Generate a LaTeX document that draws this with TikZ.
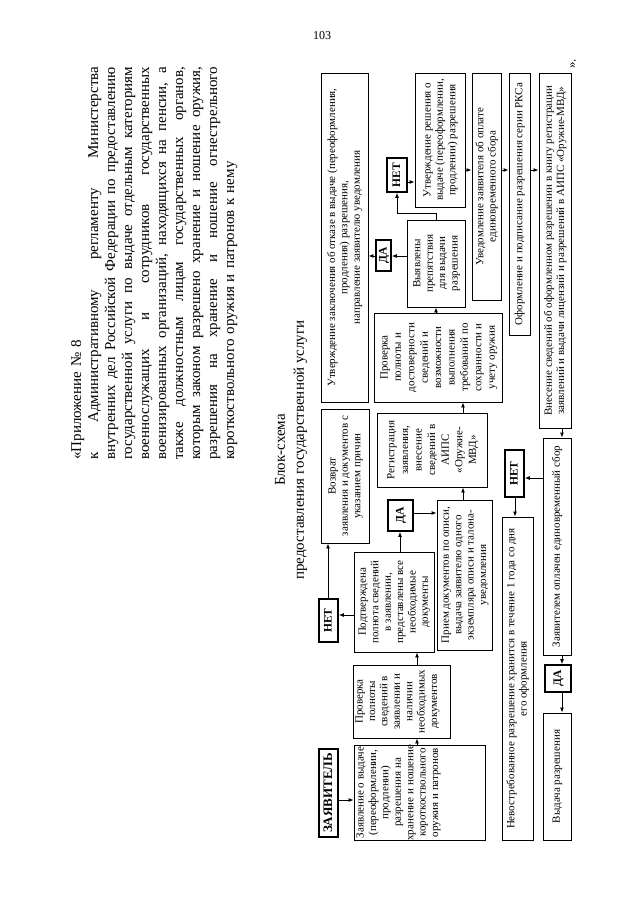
\documentclass[tikz,border=0pt]{standalone}
\usepackage{fontspec}
\setmainfont{Liberation Serif}
\usetikzlibrary{arrows.meta}
\hyphenpenalty=10000
\exhyphenpenalty=10000
\tikzset{
 box/.style={draw, line width=0.9pt, inner sep=0pt, rotate=90, font=\fontsize{11}{12.4}\selectfont},
 bbox/.style={line width=1.7pt, font=\bfseries\fontsize{11.5}{13}\selectfont},
 arr/.style={line width=0.9pt, -{Latex[length=5pt,width=4pt]}},
}
% #1 style, #2 name, #3 x1, #4 x2, #5 y1, #6 y2 (page px, y down), #7 t/c, #8 text
\newcommand\mkbx[8]{%
 \pgfmathsetmacro\bW{#6-#5}%
 \pgfmathsetmacro\bH{#4-#3}%
 \pgfmathsetmacro\bX{(#3+#4)/2}%
 \pgfmathsetmacro\bY{-(#5+#6)/2}%
 \node[box,#1] (#2) at (\bX pt,\bY pt) {\parbox[c][\bH pt][#7]{\bW pt}{\vspace*{1pt}\makebox[\bW pt][c]{\begin{tabular}{@{}c@{}}#8\end{tabular}}}};%
}
\newcommand\jline[1]{\leavevmode\hbox to 393pt{\spaceskip=0.3em plus 1fil\relax #1}}
\newcommand\conR[3]{\draw[arr] (#1.south |- 0,-#3pt) -- (#2.north |- 0,-#3pt);}
\newcommand\conL[3]{\draw[arr] (#1.north |- 0,-#3pt) -- (#2.south |- 0,-#3pt);}
\newcommand\conU[3]{\draw[arr] (#1.east -| #3pt,0) -- (#2.west -| #3pt,0);}
\newcommand\conD[3]{\draw[arr] (#1.west -| #3pt,0) -- (#2.east -| #3pt,0);}
\begin{document}
\begin{tikzpicture}
\useasboundingbox (0,0) rectangle (640pt,-905pt);
\fill[white] (0,0) rectangle (640pt,-905pt);

\node[font=\fontsize{12}{14}\selectfont] (pnum) at (322pt,-36pt) {103};

\node[rotate=90, anchor=north west, inner sep=0pt, text width=393pt, align=left,
      font=\fontsize{15}{17}\selectfont] (hdr) at (71pt,-460pt) {%
«Приложение № 8\\
\jline{к Административному регламенту Министерства}\\
\jline{внутренних дел Российской Федерации по предоставлению}\\
\jline{государственной услуги по выдаче отдельным категориям}\\
\jline{военнослужащих и сотрудников государственных}\\
\jline{военизированных организаций, находящихся на пенсии, а}\\
\jline{также должностным лицам государственных органов,}\\
\jline{которым законом разрешено хранение и ношение оружия,}\\
\jline{разрешения на хранение и ношение огнестрельного}\\
короткоствольного оружия и патронов к нему};

\node[rotate=90, align=center, font=\fontsize{15}{19}\selectfont] (title) at (291pt,-450pt)
  {Блок-схема\\предоставления государственной услуги};

\node[rotate=90, inner sep=0pt, font=\fontsize{13}{15}\selectfont] (close) at (573pt,-64pt) {».};

% boxes
\mkbx{bbox, font=\bfseries\fontsize{13}{15}\selectfont}{zayav}{319}{338}{749}{837}{c}{ЗАЯВИТЕЛЬ}
\mkbx{}{zayavl}{354}{485}{745}{840}{t}{Заявление о выдаче\\(переоформлении,\\продлении)\\разрешения на\\хранение и ношение\\короткоствольного\\оружия и патронов}
\mkbx{}{prov1}{353}{450}{665}{738}{t}{Проверка\\полноты\\сведений в\\заявлении и\\наличии\\необходимых\\документов}
\mkbx{}{podtv}{354}{434}{552}{652}{c}{Подтверждена\\полнота сведений\\в заявлении,\\представлены все\\необходимые\\документы}
\mkbx{bbox}{net1}{319}{338}{599}{642}{c}{НЕТ}
\mkbx{}{vozvrat}{321}{369}{409}{543}{c}{Возврат\\заявления и документов с\\указанием причин}
\mkbx{bbox}{da1}{388}{413}{500}{531}{c}{ДА}
\mkbx{}{priem}{437}{492}{500}{650}{c}{Прием документов по описи,\\выдача заявителю одного\\экземпляра описи и талона-\\уведомления}
\mkbx{font=\fontsize{11}{13.6}\selectfont}{reg}{377}{487}{413}{487}{c}{Регистрация\\заявления,\\внесение\\сведений в\\АИПС\\«Оружие-\\МВД»}
\mkbx{font=\fontsize{11}{13.4}\selectfont}{prov2}{374}{502}{313}{402}{c}{Проверка\\полноты и\\достоверности\\сведений и\\возможности\\выполнения\\требований по\\сохранности и\\учету оружия}
\mkbx{}{big}{321}{368}{73}{402}{c}{Утверждение заключения об отказе в выдаче (переоформления,\\продления) разрешения,\\направление заявителю уведомления}
\mkbx{bbox}{da2}{376}{391}{240}{271}{c}{ДА}
\mkbx{}{vyyav}{407}{465}{220}{307}{c}{Выявлены\\препятствия\\для выдачи\\разрешения}
\mkbx{bbox}{net2}{387}{407}{158}{192}{c}{НЕТ}
\mkbx{}{utv}{415}{465}{73}{207}{c}{Утверждение решения о\\выдаче (переоформлении,\\продлении) разрешения}
\mkbx{}{uved}{472}{501}{73}{300}{c}{Уведомление заявителя об оплате\\единовременного сбора}
\mkbx{}{oform}{509}{530}{73}{335}{c}{Оформление и подписание разрешения серии РКСа}
\mkbx{}{vnes}{539}{571}{73}{428}{c}{Внесение сведений об оформленном разрешении в книгу регистрации\\заявлений и выдачи лицензий и разрешений в АИПС «Оружие-МВД»}
\mkbx{}{oplach}{543}{571}{438}{655}{c}{Заявителем оплачен единовременный сбор}
\mkbx{bbox}{net3}{505}{524}{450}{497}{c}{НЕТ}
\mkbx{}{nevostr}{502}{533}{517}{840}{c}{Невостребованное разрешение хранится в течение 1 года со дня\\его оформления}
\mkbx{bbox}{da3}{545}{571}{665}{692}{c}{ДА}
\mkbx{}{vydacha}{543}{571}{713}{840}{c}{Выдача разрешения}

% connectors
\conR{zayav}{zayavl}{800}
\conU{zayavl}{prov1}{417}
\conU{prov1}{podtv}{417}
\conL{podtv}{net1}{615}
\conU{net1}{vozvrat}{328}
\conU{podtv}{da1}{400}
\conR{da1}{priem}{513}
\conU{priem}{reg}{463}
\conU{reg}{prov2}{463}
\conU{prov2}{vyyav}{436}
\conL{vyyav}{da2}{256}
\conL{da2}{big}{256}
\draw[arr] (vyyav.east) -- ++(0,6pt) -| (net2.west);
\conR{net2}{utv}{182}
\conR{utv}{uved}{170}
\conR{uved}{oform}{170}
\conR{oform}{vnes}{170}
\conD{vnes}{oplach}{562}
\conL{oplach}{net3}{478}
\conD{net3}{nevostr}{515}
\conD{oplach}{da3}{562}
\conD{da3}{vydacha}{562}
\end{tikzpicture}
\end{document}
